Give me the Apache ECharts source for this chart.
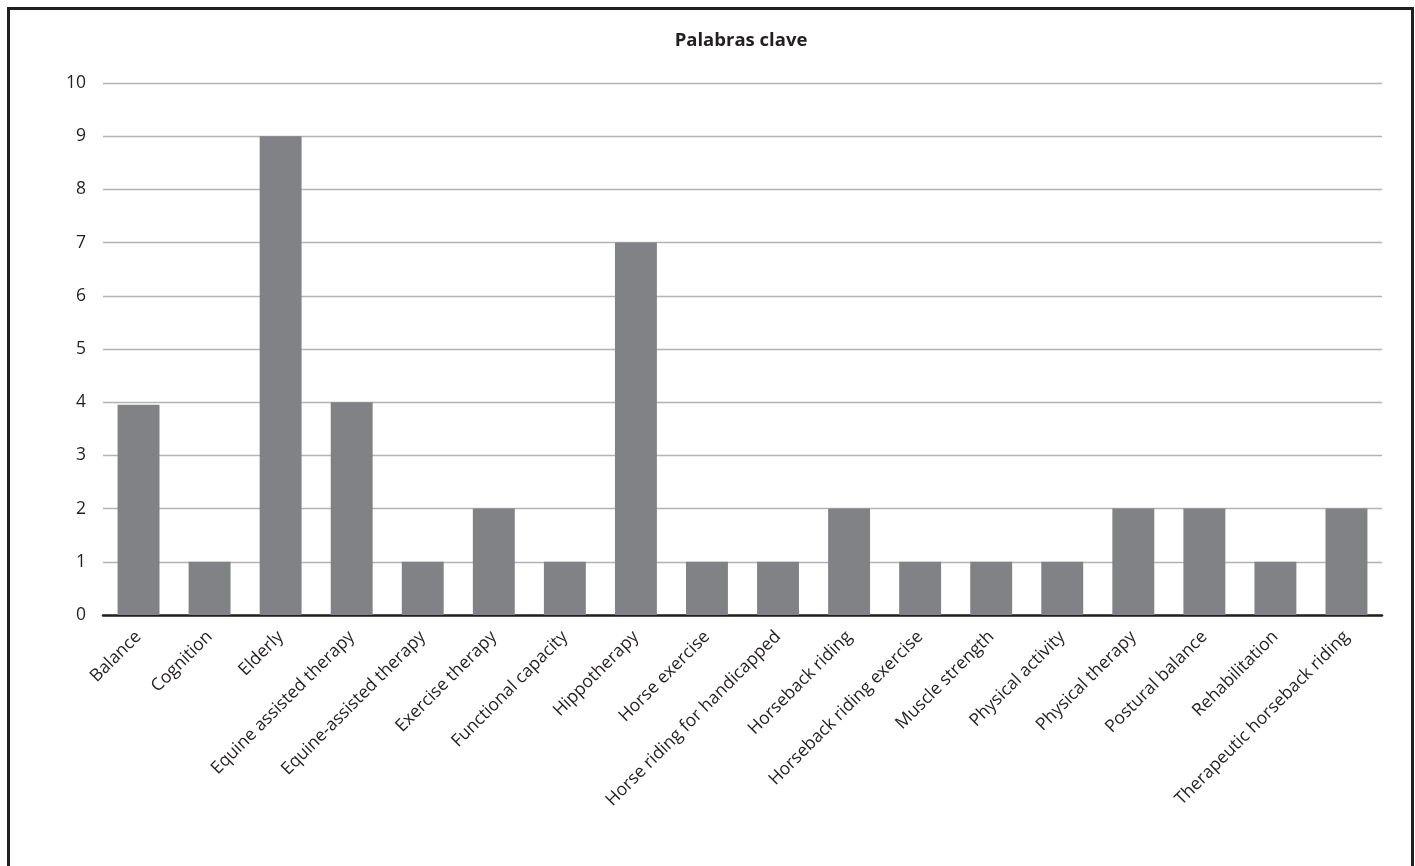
<!DOCTYPE html>
<html>
<head>
<meta charset="utf-8">
<script src="https://cdn.jsdelivr.net/npm/echarts@6/dist/echarts.min.js"></script>
<style>
html,body{margin:0;padding:0;background:#fff;}
#chart{width:1415px;height:866px;}
#frame{position:absolute;left:7px;top:7px;width:1401px;height:900px;border:3px solid #231f20;border-bottom:none;pointer-events:none;}
</style>
</head>
<body>
<div id="chart"></div>
<div id="frame"></div>
<script>
const categories = ["Balance","Cognition","Elderly","Equine assisted therapy","Equine-assisted therapy","Exercise therapy","Functional capacity","Hippotherapy","Horse exercise","Horse riding for handicapped","Horseback riding","Horseback riding exercise","Muscle strength","Physical activity","Physical therapy","Postural balance","Rehabilitation","Therapeutic horseback riding"];
const values = [3.95,1,9,4,1,2,1,7,1,1,2,1,1,1,2,2,1,2];
const titleText = "Palabras clave";

const chart = echarts.init(document.getElementById('chart'));
const font = "'Open Sans', 'Noto Sans', sans-serif";
chart.setOption({
  animation:false,
  title:{text:titleText,left:736,textAlign:'center',top:26,textStyle:{fontFamily:font,fontWeight:'bold',fontSize:18.5,color:'#231f20'}},
  grid:{left:103,right:33,top:83,bottom:251},
  xAxis:{type:'category',data:categories,
    axisLine:{lineStyle:{color:'#231f20',width:2.5}},
    axisTick:{show:false},
    axisLabel:{rotate:45,interval:0,margin:19,fontFamily:font,fontSize:17.5,color:'#231f20'}},
  yAxis:{type:'value',min:0,max:10,interval:1,
    axisLine:{show:false},axisTick:{show:false},
    splitLine:{lineStyle:{color:'#b3b3b6',width:1.3}},
    axisLabel:{margin:17,fontFamily:font,fontSize:17.5,color:'#231f20'}},
  series:[{type:'bar',data:values,barWidth:'59%',itemStyle:{color:'#808285'}}]
});
</script>
</body>
</html>
